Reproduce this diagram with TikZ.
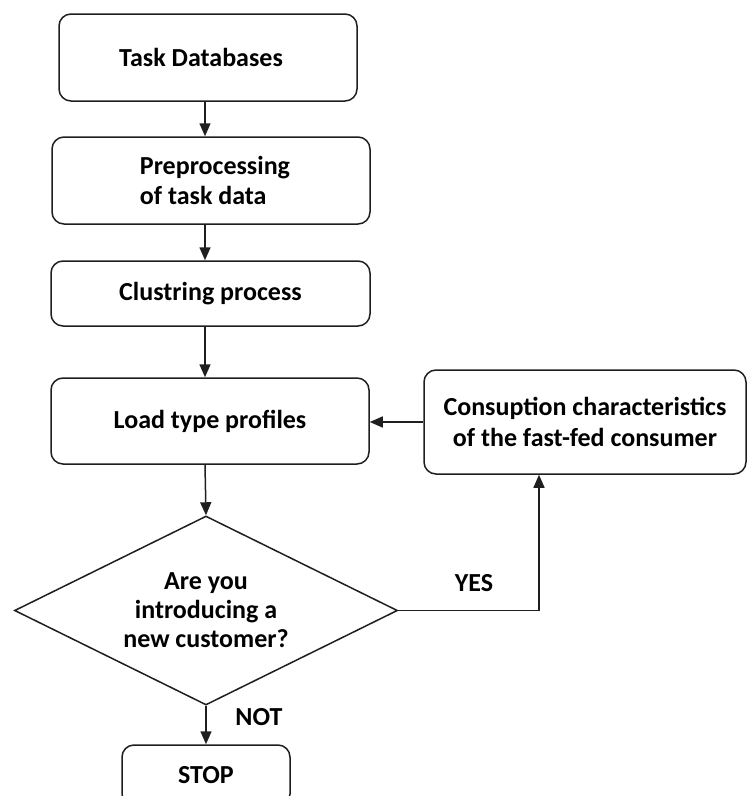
\documentclass[tikz,border=0pt]{standalone}
\usepackage{fontspec}
\setmainfont{Carlito}
\usetikzlibrary{shapes.geometric,arrows.meta}
\begin{document}
\begin{tikzpicture}[x=1pt,y=-1pt,
  box/.style={draw=black!88, rounded corners=12pt, line width=1.5pt, inner sep=0pt,
    font=\bfseries\fontsize{26}{30.5}\selectfont, align=center},
  decision/.style={draw=black!88, shape=diamond, aspect=2, line width=1.5pt, inner sep=0pt,
    minimum width=383pt, minimum height=189pt,
    font=\bfseries\fontsize{26}{29}\selectfont, align=center},
  lbl/.style={inner sep=0pt, font=\bfseries\fontsize{26}{30}\selectfont},
  flow/.style={draw=black!88, line width=1.5pt, -{Triangle[length=13pt,width=11pt]}}]
\useasboundingbox[fill=white] (0,0) rectangle (747,796);

% vertical spine of the main flow and the x of the YES branch
\coordinate (spine) at (205,0);
\coordinate (yesx) at (539,0);

% process boxes
\node[box, minimum width=298pt, minimum height=87pt] (db) at (208,57.5) {Task Databases\hspace*{14pt}};
\node[box, minimum width=318pt, minimum height=87pt, align=left] (pre) at (211,180.5)
  {\hspace*{8pt}Preprocessing\\\hspace*{8pt}of task data};
\node[box, minimum width=319pt, minimum height=65pt] (clu) at (210.5,293.5) {Clustring process};
\node[box, minimum width=318pt, minimum height=86pt] (load) at (210,421) {Load type profiles};
\node[box, minimum width=322pt, minimum height=104pt] (cons) at (585,422)
  {Consuption characteristics\\of the fast-fed consumer};

% decision
\node[decision] (dec) at (206,610.5) {Are you\\introducing a\\new customer?};

% end box (runs past the lower edge)
\node[box, minimum width=168pt, minimum height=61pt] (stop) at (206,775.5) {STOP};

% connectors
\draw[flow] (db.south -| spine) -- (pre.north -| spine);
\draw[flow] (pre.south -| spine) -- (clu.north -| spine);
\draw[flow] (clu.south -| spine) -- (load.north -| spine);
\draw[flow] (load.south -| spine) -- (dec.north);
\draw[flow] (dec.south) -- (stop.north);
\draw[flow] (cons.west) -- (cons.west -| load.east);
\draw[flow] (dec.east) -| (cons.south -| yesx);

% branch labels
\node[lbl] (yes) at (474,583) {YES};
\node[lbl] (not) at (259,717) {NOT};
\end{tikzpicture}
\end{document}
